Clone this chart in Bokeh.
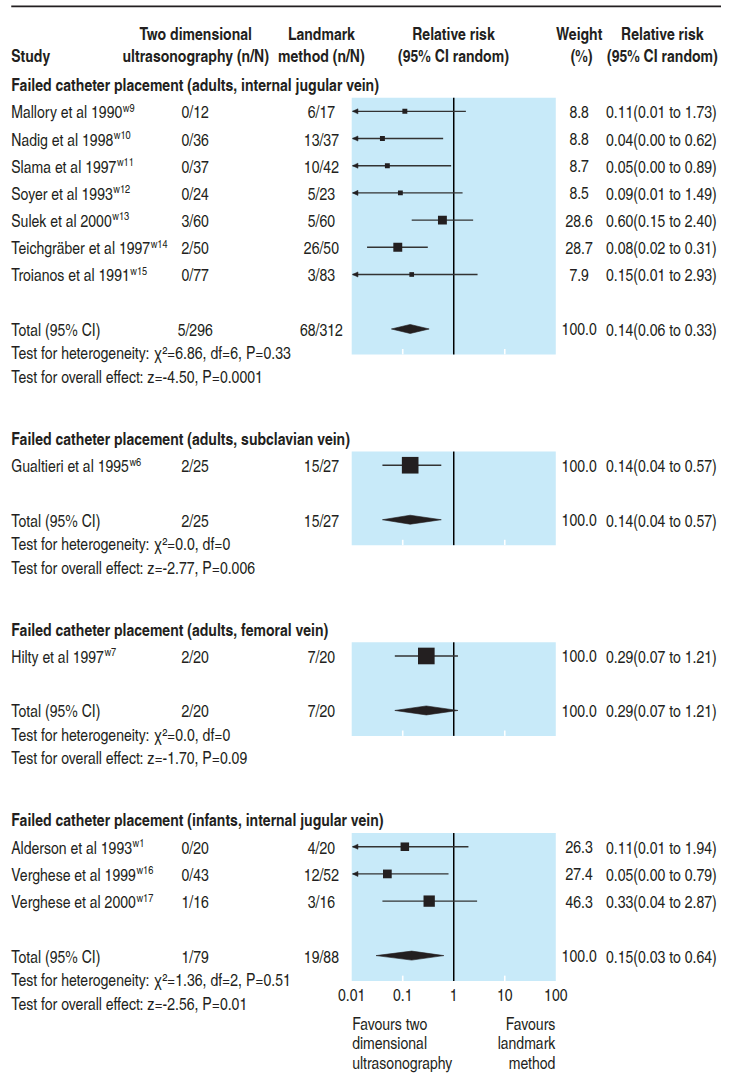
import subprocess
import numpy as np
from bokeh.plotting import figure
from bokeh.models import Range1d, LogScale
from bokeh.core.properties import value
from bokeh.embed import file_html
from bokeh.resources import INLINE

# ------------------------------------------------------------------ data
sec_titles = [
    "Failed catheter placement (adults, internal jugular vein)",
    "Failed catheter placement (adults, subclavian vein)",
    "Failed catheter placement (adults, femoral vein)",
    "Failed catheter placement (infants, internal jugular vein)",
]
names = [
    ["Mallory et al 1990", "Nadig et al 1998", "Slama et al 1997", "Soyer et al 1993",
     "Sulek et al 2000", "Teichgräber et al 1997", "Troianos et al 1991"],
    ["Gualtieri et al 1995"],
    ["Hilty et al 1997"],
    ["Alderson et al 1993", "Verghese et al 1999", "Verghese et al 2000"],
]
sups = [
    ["w9", "w10", "w11", "w12", "w13", "w14", "w15"],
    ["w6"],
    ["w7"],
    ["w1", "w16", "w17"],
]
us_nN = [
    ["0/12", "0/36", "0/37", "0/24", "3/60", "2/50", "0/77"],
    ["2/25"],
    ["2/20"],
    ["0/20", "0/43", "1/16"],
]
lm_nN = [
    ["6/17", "13/37", "10/42", "5/23", "5/60", "26/50", "3/83"],
    ["15/27"],
    ["7/20"],
    ["4/20", "12/52", "3/16"],
]
weights = [
    [8.8, 8.8, 8.7, 8.5, 28.6, 28.7, 7.9],
    [100.0],
    [100.0],
    [26.3, 27.4, 46.3],
]
rr = [
    [0.11, 0.04, 0.05, 0.09, 0.60, 0.08, 0.15],
    [0.14],
    [0.29],
    [0.11, 0.05, 0.33],
]
rr_lo = [
    [0.01, 0.00, 0.00, 0.01, 0.15, 0.02, 0.01],
    [0.04],
    [0.07],
    [0.01, 0.00, 0.04],
]
rr_hi = [
    [1.73, 0.62, 0.89, 1.49, 2.40, 0.31, 2.93],
    [0.57],
    [1.21],
    [1.94, 0.79, 2.87],
]
tot_us = ["5/296", "2/25", "2/20", "1/79"]
tot_lm = ["68/312", "15/27", "7/20", "19/88"]
tot_w = [100.0, 100.0, 100.0, 100.0]
tot_rr = [0.14, 0.14, 0.29, 0.15]
tot_lo = [0.06, 0.04, 0.07, 0.03]
tot_hi = [0.33, 0.57, 1.21, 0.64]
het_txt = [
    "Test for heterogeneity: χ²=6.86, df=6, P=0.33",
    "Test for heterogeneity: χ²=0.0, df=0",
    "Test for heterogeneity: χ²=0.0, df=0",
    "Test for heterogeneity: χ²=1.36, df=2, P=0.51",
]
eff_txt = [
    "Test for overall effect: z=-4.50, P=0.0001",
    "Test for overall effect: z=-2.77, P=0.006",
    "Test for overall effect: z=-1.70, P=0.09",
    "Test for overall effect: z=-2.56, P=0.01",
]
tick_vals = [0.01, 0.1, 1, 10, 100]
tick_labels = ["0.01", "0.1", "1", "10", "100"]
minor_marks = [0.1, 10]
header1 = ["Two dimensional", "Landmark", "Relative risk", "Weight", "Relative risk"]
header2 = ["ultrasonography (n/N)", "method (n/N)", "(95% CI random)", "(%)", "(95% CI random)"]
fav_left = ["Favours two", "dimensional", "ultrasonography"]
fav_right = ["Favours", "landmark", "method"]
panel_range = [0.01, 100]

# ------------------------------------------------------------------ layout
FONT = "TeX Gyre Heros Cn"
INK = "#231f20"
BLUE = "#c8eaf9"
W, H = 721, 1076
X0, X1 = 0, 737
Y0, Y1 = 1100, 0
XPX = (X1 - X0) / W           # data units per screen px (x)
SC = W / (X1 - X0)            # screen px per data unit
FS = round(17.5 * SC, 2)      # main font, screen px
SUP_FS = round(11.5 * SC, 2)
PX_DEC = 52.15
X_ONE = 463.3
ROW = 27.8

def font_file(bold=False):
    try:
        q = FONT + (":bold" if bold else "")
        return subprocess.run(["fc-match", "-f", "%{file}", q], capture_output=True, text=True).stdout.strip()
    except Exception:
        return ""

try:
    from PIL import ImageFont
    _pil = ImageFont.truetype(font_file(), FS)
    def text_w(s):
        return _pil.getlength(s)
except Exception:
    def text_w(s):
        return 0.42 * FS * len(s)

p = figure(width=W, height=H, output_backend="svg", toolbar_location=None,
           x_range=Range1d(X0, X1), y_range=Range1d(Y0, Y1), min_border=0)
p.axis.visible = False
p.grid.visible = False
p.outline_line_color = None
p.extra_x_ranges = {"rr": Range1d(10 ** ((X0 - X_ONE) / PX_DEC), 10 ** ((X1 - X_ONE) / PX_DEC))}
p.extra_x_scales = {"rr": LogScale()}

def txt(xs, ys, texts, align="left", bold=False, size=FS, range_name="default"):
    kw = {}
    if range_name != "default":
        kw["x_range_name"] = range_name
    p.text(x=list(xs), y=list(ys), text=list(texts), text_font=value(FONT),
           text_font_size=value(f"{size}px"), text_font_style="bold" if bold else "normal",
           text_align=align, text_baseline="middle", text_color=INK, **kw)

# top rule
p.segment(x0=[11], x1=[737], y0=[6], y1=[6], line_color=INK, line_width=1.8)

# column headers
col_h1 = [199.5, 328, 463, 591.5, 676.5]
col_h2 = [199.5, 328, 463, 594, 676.5]
txt(col_h1, [33.5] * 5, header1, align="center", bold=True)
txt(col_h2, [56] * 5, header2, align="center", bold=True)
txt([11], [56], ["Study"], bold=True)

# per-section geometry
first_y = 113.3
panels = dict(l=[], r=[], t=[], b=[])
st = dict(name=[], nx=[], y=[], sup=[], sx=[], us=[], lm=[], w=[], rrs=[])
ci_line = dict(x0=[], x1=[], y=[])
heads = dict(xs=[], ys=[])
sq = dict(x=[], y=[], size=[])
dia = dict(xs=[], ys=[])
totals = dict(y=[], us=[], lm=[], w=[], rrs=[])
sec_y, het_y, eff_y = [], [], []
vline = dict(y0=[], y1=[])
marks = dict(x=[], y0=[], y1=[])

for s in range(len(sec_titles)):
    ys = [first_y + i * ROW for i in range(len(names[s]))]
    tot_y = ys[-1] + 55.7
    sec_y.append(first_y - 28.0)
    het_y.append(tot_y + 24.0)
    eff_y.append(tot_y + 48.0)
    top, bot = first_y - 14, tot_y + 26
    panels["l"].append(panel_range[0]); panels["r"].append(panel_range[1])
    panels["t"].append(top); panels["b"].append(bot)
    vline["y0"].append(top); vline["y1"].append(bot)
    for m in minor_marks:
        marks["x"].append(m); marks["y0"].append(bot - 5.5); marks["y1"].append(bot)
    for i, y in enumerate(ys):
        st["name"].append(names[s][i]); st["nx"].append(11); st["y"].append(y)
        st["sup"].append(sups[s][i]); st["sx"].append(11 + text_w(names[s][i]) * XPX + 0.6)
        st["us"].append(us_nN[s][i]); st["lm"].append(lm_nN[s][i])
        st["w"].append(f"{weights[s][i]:.1f}")
        st["rrs"].append(f"{rr[s][i]:.2f}({rr_lo[s][i]:.2f} to {rr_hi[s][i]:.2f})")
        lo = rr_lo[s][i]
        clipped = lo < 0.015
        tip = panel_range[0] * 1.04
        ci_line["x0"].append(tip if clipped else lo)
        ci_line["x1"].append(rr_hi[s][i]); ci_line["y"].append(y)
        if clipped:
            base_x = tip * 10 ** (5.5 / PX_DEC)
            heads["xs"].append([tip, base_x, base_x]); heads["ys"].append([y, y - 2.6, y + 2.6])
        sq["x"].append(rr[s][i]); sq["y"].append(y); sq["size"].append(17.0 * SC * np.sqrt(weights[s][i] / 100.0))
    totals["y"].append(tot_y); totals["us"].append(tot_us[s]); totals["lm"].append(tot_lm[s])
    totals["w"].append(f"{tot_w[s]:.1f}")
    totals["rrs"].append(f"{tot_rr[s]:.2f}({tot_lo[s]:.2f} to {tot_hi[s]:.2f})")
    dia["xs"].append([tot_lo[s], tot_rr[s], tot_hi[s], tot_rr[s]])
    dia["ys"].append([tot_y, tot_y - 4.6, tot_y, tot_y + 4.6])
    last_panel_bottom = bot
    first_y = tot_y + 139.3

# panels
p.quad(left=panels["l"], right=panels["r"], top=panels["t"], bottom=panels["b"],
       fill_color=BLUE, line_color=None, x_range_name="rr")
p.segment(x0=marks["x"], x1=marks["x"], y0=marks["y0"], y1=marks["y1"],
          line_color="white", line_width=1.6, x_range_name="rr")
p.segment(x0=[1] * len(vline["y0"]), x1=[1] * len(vline["y0"]), y0=vline["y0"], y1=vline["y1"],
          line_color="black", line_width=1.5, x_range_name="rr")

# CIs, arrows, squares, diamonds
p.segment(x0=ci_line["x0"], x1=ci_line["x1"], y0=ci_line["y"], y1=ci_line["y"],
          line_color="#333333", line_width=1.4, x_range_name="rr")
p.patches(xs=heads["xs"], ys=heads["ys"], fill_color=INK, line_color=INK, line_width=0.5, x_range_name="rr")
p.scatter(x=sq["x"], y=sq["y"], size=sq["size"], marker="square", fill_color=INK, line_color=None,
          x_range_name="rr")
p.patches(xs=dia["xs"], ys=dia["ys"], fill_color=INK, line_color=INK, line_width=0.6, x_range_name="rr")

# section titles and study rows
txt([11] * len(sec_y), sec_y, sec_titles, bold=True)
txt(st["nx"], st["y"], st["name"])
txt(st["sx"], [y - 4.2 for y in st["y"]], st["sup"], size=SUP_FS)
txt([199] * len(st["y"]), st["y"], st["us"], align="center")
txt([328] * len(st["y"]), st["y"], st["lm"], align="center")
txt([591.5] * len(st["y"]), st["y"], st["w"], align="center")
txt([619] * len(st["y"]), st["y"], st["rrs"])

# totals
txt([11] * 4, totals["y"], ["Total (95% CI)"] * 4)
txt([199] * 4, totals["y"], totals["us"], align="center")
txt([328] * 4, totals["y"], totals["lm"], align="center")
txt([591.5] * 4, totals["y"], totals["w"], align="center")
txt([619] * 4, totals["y"], totals["rrs"])
txt([11] * 4, het_y, het_txt)
txt([11] * 4, eff_y, eff_txt)

# scale labels below the last panel
tick_mid = last_panel_bottom + 13.5
txt(tick_vals, [tick_mid] * len(tick_vals), tick_labels, align="center", range_name="rr")
fav_y = [last_panel_bottom + 42.5 + k * 20.3 for k in range(3)]
txt([panel_range[0] * 1.02] * 3, fav_y, fav_left, range_name="rr")
txt([panel_range[1] * 0.98] * 3, fav_y, fav_right, align="right", range_name="rr")

open("out.html", "w").write(file_html(p, INLINE))
